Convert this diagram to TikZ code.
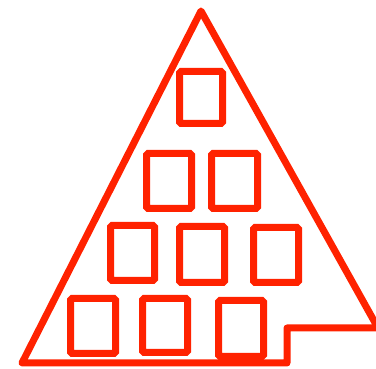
\documentclass[tikz,border=0pt]{standalone}
\definecolor{redline}{HTML}{FF2200}
\begin{document}
\begin{tikzpicture}[x=1pt,y=-1pt,
  outl/.style={draw=redline,line width=7pt,line join=round,line cap=round},
  win/.style={draw=redline,line width=7pt,rounded corners=1.5pt}]
\useasboundingbox (0,0) rectangle (376,369);
\draw[outl] (378,328) -- (201,11) -- (22,363) -- (287,363) -- (287,328) -- (378,328);
\draw[win] (179.5,71.5) rectangle (222.5,123.5);
\draw[win] (146.5,153.5) rectangle (191.5,208.5);
\draw[win] (211.5,153.5) rectangle (257.5,208.5);
\draw[win] (110.5,225.5) rectangle (154.5,280.5);
\draw[win] (179.5,226.5) rectangle (224.5,282.5);
\draw[win] (253.5,227.5) rectangle (298.5,282.5);
\draw[win] (70.5,298.5) rectangle (115.5,353.5);
\draw[win] (142.5,298.5) rectangle (187.5,352.5);
\draw[win] (218.5,300.5) rectangle (263.5,356.5);
\end{tikzpicture}
\end{document}
